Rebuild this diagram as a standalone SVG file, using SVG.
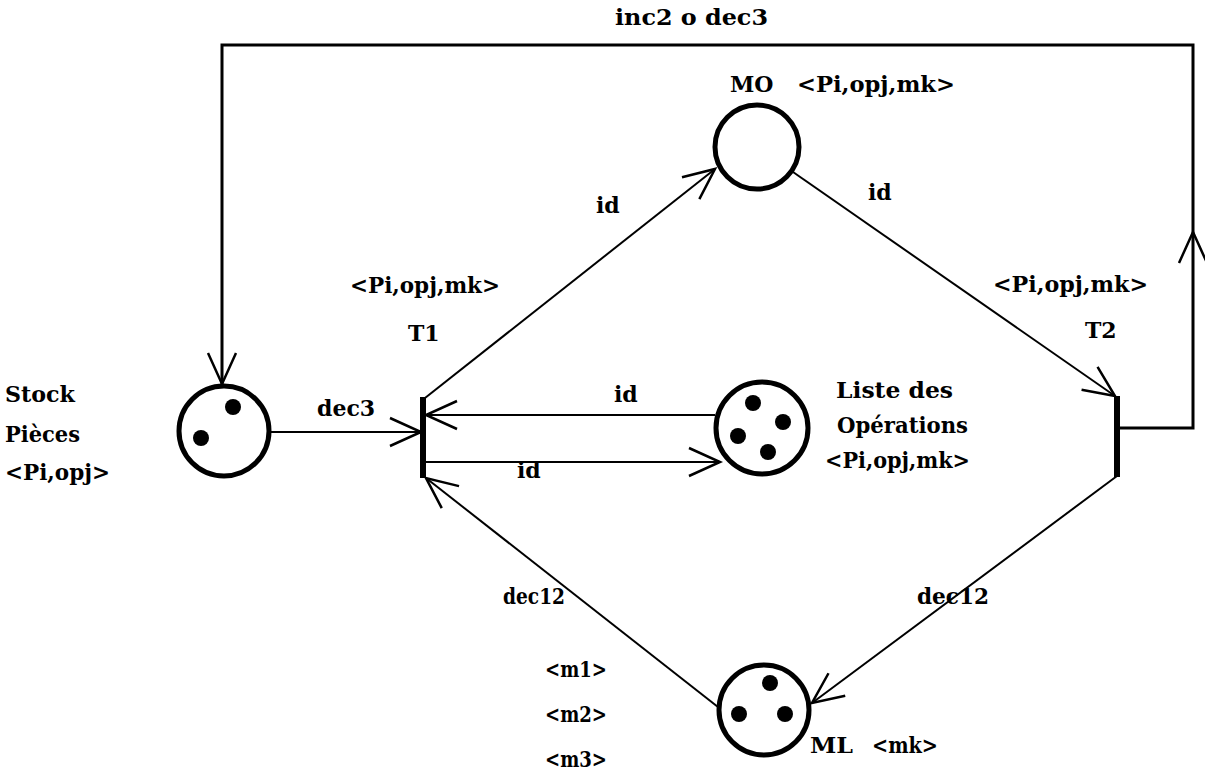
<svg xmlns="http://www.w3.org/2000/svg" width="1205" height="773" viewBox="0 0 1205 773">
  <style>
    text { font-family: "DejaVu Serif", "Liberation Serif", serif; font-weight: bold; font-size: 22px; fill: #000; }
    .place { fill: #fff; stroke: #000; stroke-width: 5; }
    .token { fill: #000; }
    .bar { fill: #000; }
    .arc { fill: none; stroke: #000; stroke-width: 2; }
    .loop { fill: none; stroke: #000; stroke-width: 3; }
  </style>
  <defs>
    <!-- open V arrowhead, tip at the end of the line -->
    <marker id="head" markerUnits="userSpaceOnUse" markerWidth="40" markerHeight="40" refX="0" refY="0" viewBox="-34 -20 40 40" orient="auto" overflow="visible">
      <path d="M-31,-14 L0,0 L-31,14" fill="none" stroke="#000" stroke-width="2.5"/>
    </marker>
  </defs>

  <rect width="1205" height="773" fill="#fff"/>

  <!-- arcs -->
  <g id="connectors">
    <!-- T2 back to Stock Pièces over the top -->
    <path class="loop" d="M1117,428 H1193 V232" marker-end="url(#head)"/>
    <path class="loop" d="M1193,232 V45 H222 V384" marker-end="url(#head)"/>
    <!-- Stock Pièces -> T1 -->
    <path class="arc" d="M270,432 H421" marker-end="url(#head)"/>
    <!-- Liste des Opérations -> T1 -->
    <path class="arc" d="M715,415 H426" marker-end="url(#head)"/>
    <!-- T1 -> Liste des Opérations -->
    <path class="arc" d="M426,462 H720" marker-end="url(#head)"/>
    <!-- T1 -> MO -->
    <path class="arc" d="M425,398 L715,169" marker-end="url(#head)"/>
    <!-- MO -> T2 -->
    <path class="arc" d="M793,172 L1115,396" marker-end="url(#head)"/>
    <!-- T2 -> ML -->
    <path class="arc" d="M1117,476 L812,703" marker-end="url(#head)"/>
    <!-- ML -> T1 -->
    <path class="arc" d="M718,707 L426,478" marker-end="url(#head)"/>

    <text x="615" y="25" textLength="153" lengthAdjust="spacingAndGlyphs">inc2 o dec3</text>
    <text x="317" y="416">dec3</text>
    <text x="596" y="213">id</text>
    <text x="868" y="200">id</text>
    <text x="614" y="402">id</text>
    <text x="517" y="478">id</text>
    <text x="503" y="604" textLength="62" lengthAdjust="spacingAndGlyphs">dec12</text>
    <text x="917" y="604" textLength="72" lengthAdjust="spacingAndGlyphs">dec12</text>
  </g>

  <!-- places -->
  <g id="stock">
    <circle class="place" cx="224" cy="431" r="45"/>
    <circle class="token" cx="233" cy="407" r="8"/>
    <circle class="token" cx="201" cy="438" r="8"/>
    <text x="5" y="402" textLength="70" lengthAdjust="spacingAndGlyphs">Stock</text>
    <text x="5" y="442" textLength="75" lengthAdjust="spacingAndGlyphs">Pièces</text>
    <text x="5" y="480" textLength="105" lengthAdjust="spacingAndGlyphs">&lt;Pi,opj&gt;</text>
  </g>

  <g id="mo">
    <circle class="place" cx="757" cy="147" r="42"/>
    <text x="730" y="92">MO</text>
    <text x="797" y="92" textLength="158" lengthAdjust="spacingAndGlyphs">&lt;Pi,opj,mk&gt;</text>
  </g>

  <g id="liste">
    <circle class="place" cx="762" cy="428" r="46"/>
    <circle class="token" cx="753" cy="403" r="8"/>
    <circle class="token" cx="783" cy="422" r="8"/>
    <circle class="token" cx="738" cy="436" r="8"/>
    <circle class="token" cx="768" cy="452" r="8"/>
    <text x="836" y="398" textLength="117" lengthAdjust="spacingAndGlyphs">Liste des</text>
    <text x="837" y="433" textLength="131" lengthAdjust="spacingAndGlyphs">Opérations</text>
    <text x="825" y="468" textLength="145" lengthAdjust="spacingAndGlyphs">&lt;Pi,opj,mk&gt;</text>
  </g>

  <g id="ml">
    <circle class="place" cx="764" cy="710" r="45"/>
    <circle class="token" cx="770" cy="683" r="8"/>
    <circle class="token" cx="739" cy="714" r="8"/>
    <circle class="token" cx="785" cy="714" r="8"/>
    <text x="810" y="753" textLength="43" lengthAdjust="spacingAndGlyphs">ML</text>
    <text x="872" y="753" textLength="66" lengthAdjust="spacingAndGlyphs">&lt;mk&gt;</text>
    <text x="545" y="677" textLength="62" lengthAdjust="spacingAndGlyphs">&lt;m1&gt;</text>
    <text x="545" y="722" textLength="62" lengthAdjust="spacingAndGlyphs">&lt;m2&gt;</text>
    <text x="545" y="767" textLength="62" lengthAdjust="spacingAndGlyphs">&lt;m3&gt;</text>
  </g>

  <!-- transitions -->
  <g id="t1">
    <rect class="bar" x="420" y="397" width="6" height="81"/>
    <text x="350" y="293" textLength="150" lengthAdjust="spacingAndGlyphs">&lt;Pi,opj,mk&gt;</text>
    <text x="408" y="341">T1</text>
  </g>

  <g id="t2">
    <rect class="bar" x="1114" y="396" width="6" height="81"/>
    <text x="993" y="292" textLength="155" lengthAdjust="spacingAndGlyphs">&lt;Pi,opj,mk&gt;</text>
    <text x="1085" y="338">T2</text>
  </g>
</svg>
